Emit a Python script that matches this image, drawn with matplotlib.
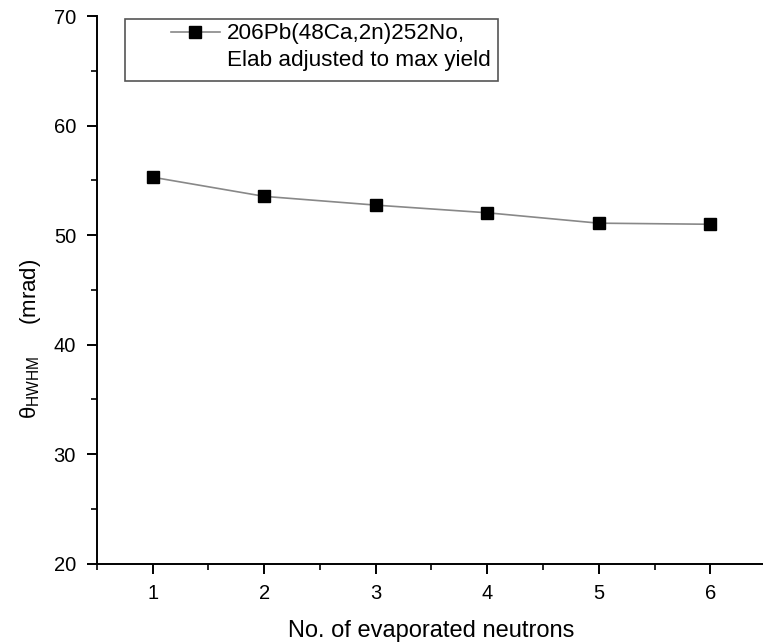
import matplotlib
matplotlib.use("Agg")
import matplotlib.pyplot as plt
from matplotlib.lines import Line2D
from matplotlib.patches import Rectangle
from matplotlib.ticker import MultipleLocator

# dados
neutrons = [1, 2, 3, 4, 5, 6]
theta_hwhm = [55.3, 53.55, 52.75, 52.05, 51.1, 51.0]
rotulo_linha1 = "206Pb(48Ca,2n)252No,"
rotulo_linha2 = "Elab adjusted to max yield"

plt.rcParams['font.family'] = ['Liberation Sans', 'DejaVu Sans']
plt.rcParams['mathtext.fontset'] = 'custom'
plt.rcParams['mathtext.rm'] = 'Liberation Sans'
plt.rcParams['mathtext.it'] = 'Liberation Sans:italic'

fig = plt.figure(figsize=(7.63, 6.43), dpi=100)
ax = fig.add_axes([0.127, 0.1236, 0.877, 0.851])

linha, = ax.plot(neutrons, theta_hwhm, color='#888888', linewidth=1.2,
                 marker='s', markersize=8, markerfacecolor='black',
                 markeredgecolor='black')

ax.set_xlim(0.5, 6.5)
ax.set_ylim(20, 70)
ax.xaxis.set_major_locator(MultipleLocator(1))
ax.xaxis.set_minor_locator(MultipleLocator(0.5))
ax.yaxis.set_major_locator(MultipleLocator(10))
ax.yaxis.set_minor_locator(MultipleLocator(5))

for lado in ['top', 'right']:
    ax.spines[lado].set_visible(False)
for lado in ['left', 'bottom']:
    ax.spines[lado].set_linewidth(1.4)

ax.tick_params(which='major', direction='out', length=7, width=1.4,
               labelsize=14.5, pad=8)
ax.tick_params(which='minor', direction='out', length=4, width=1.2)

ax.set_xlabel('No. of evaporated neutrons', fontsize=17, labelpad=12)
ax.set_ylabel('θ$_{\\mathrm{HWHM}}$     (mrad)', fontsize=16)
ax.yaxis.set_label_coords(-0.08, 0.41)

# caixa da legenda
caixa = Rectangle((125 / 763, 1 - 81 / 643), 373 / 763, 62 / 643,
                  transform=fig.transFigure, fill=False,
                  edgecolor='#555555', linewidth=1.2)
fig.patches.append(caixa)

vazio = Line2D([], [], linestyle='none')
leg = ax.legend([linha, vazio], [rotulo_linha1, rotulo_linha2],
                loc='upper left', bbox_to_anchor=(166 / 763, 1 - 19 / 643),
                bbox_transform=fig.transFigure, fontsize=16.2, frameon=False,
                handlelength=2.2, handletextpad=0.3, borderpad=0.2,
                labelspacing=0.25, borderaxespad=0)

fig.savefig('out.png', dpi=100)
